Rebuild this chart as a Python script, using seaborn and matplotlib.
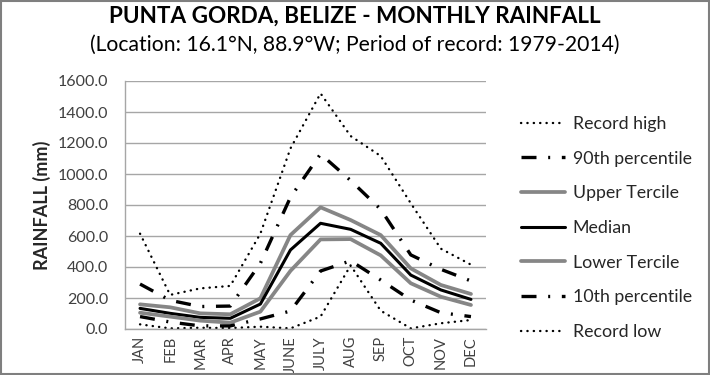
import numpy as np
import pandas as pd
import matplotlib
matplotlib.use("Agg")
import matplotlib.pyplot as plt
import seaborn as sns
from matplotlib.patches import Rectangle

# Monthly rainfall statistics (mm)
months = ["JAN", "FEB", "MAR", "APR", "MAY", "JUNE", "JULY", "AUG", "SEP", "OCT", "NOV", "DEC"]
record_high = [615, 220, 262, 278, 615, 1165, 1520, 1245, 1116, 811, 518, 415]
p90 = [290, 185, 145, 148, 424, 850, 1129, 958, 772, 478, 385, 310]
upper_tercile = [159, 140, 101, 95, 198, 606, 785, 703, 606, 391, 284, 226]
median = [133, 101, 75, 69, 161, 510, 682, 643, 553, 348, 252, 191]
lower_tercile = [105, 80, 54, 41, 112, 375, 578, 580, 475, 295, 208, 155]
p10 = [80, 45, 20, 20, 65, 116, 374, 440, 316, 187, 105, 80]
record_low = [30, 4, 8, 6, 15, 4, 80, 410, 118, 4, 37, 58]

series = [
    ("Record high", record_high),
    ("90th percentile", p90),
    ("Upper Tercile", upper_tercile),
    ("Median", median),
    ("Lower Tercile", lower_tercile),
    ("10th percentile", p10),
    ("Record low", record_low),
]

sns.set_theme(style="white")
plt.rcParams['font.family'] = ['Lato', 'DejaVu Sans']

fig = plt.figure(figsize=(7.1, 3.75), dpi=100)
ax = fig.add_axes([125 / 710, 1 - 329 / 375, 361 / 710, 248 / 375])

dotted = dict(color="black", lw=1.7, dashes=(0.1, 2.6), dash_capstyle="round")
dashdot = dict(color="black", lw=2.4, dashes=(4.5, 3.5, 0.6, 3.5))
styles = {
    "Record high": dotted,
    "90th percentile": dashdot,
    "Upper Tercile": dict(color="#868686", lw=2.7),
    "Median": dict(color="black", lw=2.2),
    "Lower Tercile": dict(color="#868686", lw=2.7),
    "10th percentile": dashdot,
    "Record low": dotted,
}

x = np.arange(len(months))
for name, vals in series:
    df = pd.DataFrame({"x": x, "y": vals})
    sns.lineplot(data=df, x="x", y="y", ax=ax, label=name, **styles[name])

ax.set_xlim(-0.5, 11.5)
ax.set_ylim(0, 1600)
ax.set_yticks(np.arange(0, 1601, 200))
ax.set_yticklabels([f"{v:.1f}" for v in np.arange(0, 1601, 200)], fontsize=11.5, color="#404040")
ax.set_xticks(x)
ax.set_xticklabels(months, rotation=90, fontsize=10.5, color="#404040")
ax.tick_params(axis="y", length=0, pad=12)
ax.tick_params(axis="x", length=0, pad=5)
ax.set_xlabel("")
ax.set_ylabel("RAINFALL (mm)", fontsize=13, fontweight="bold", color="#262626", labelpad=5)
ax.grid(axis="y", color="#a6a6a6", lw=1)
for side in ["top", "right"]:
    ax.spines[side].set_visible(False)
for side in ["left", "bottom"]:
    ax.spines[side].set_color("#a6a6a6")
    ax.spines[side].set_linewidth(1)

leg = ax.legend(loc="upper left", bbox_to_anchor=(505 / 710, 1 - 100 / 375),
                bbox_transform=fig.transFigure, frameon=False, fontsize=12.8,
                handlelength=2.5, handletextpad=0.4, labelspacing=1.05)
for t in leg.get_texts():
    t.set_color("#262626")

fig.text(0.5, 1 - 16 / 375, "PUNTA GORDA, BELIZE - MONTHLY RAINFALL", ha="center", va="center",
         fontsize=16.2, fontweight="bold", color="black")
fig.text(0.5, 1 - 45 / 375, "(Location: 16.1°N, 88.9°W; Period of record: 1979-2014)", ha="center",
         va="center", fontsize=15.2, color="black")

fig.patches.append(Rectangle((0.001, 0.002), 0.997, 0.995, transform=fig.transFigure,
                             fill=False, edgecolor="#7f7f7f", lw=1.5))

fig.savefig("out.png", dpi=100)
